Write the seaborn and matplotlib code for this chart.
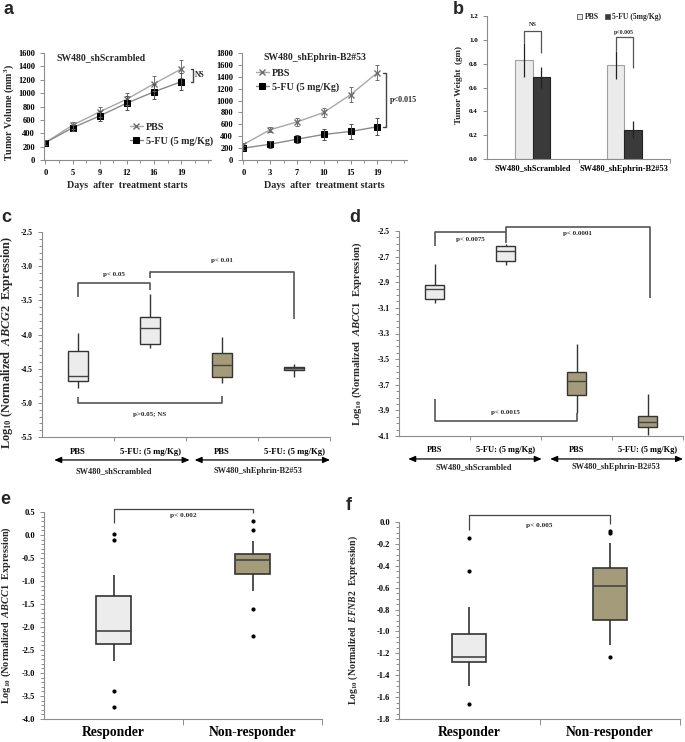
import numpy as np
import pandas as pd
import matplotlib
matplotlib.use("Agg")
import matplotlib.pyplot as plt
import seaborn as sns

sns.set_theme(style="ticks")
plt.rcParams['font.family'] = ['Liberation Serif', 'DejaVu Serif']
plt.rcParams['font.weight'] = 'bold'
plt.rcParams['axes.labelweight'] = 'bold'
plt.rcParams['mathtext.fontset'] = 'custom'
plt.rcParams['mathtext.rm'] = 'Liberation Serif:bold'
plt.rcParams['mathtext.it'] = 'Liberation Serif:italic:bold'
plt.rcParams['mathtext.bf'] = 'Liberation Serif:bold'

# ---------------- data ----------------
# panel a (left)
a1_days = ["0", "5", "9", "12", "16", "19"]
a1_pbs = [260, 520, 720, 910, 1140, 1360]
a1_pbs_err = [40, 50, 80, 90, 110, 130]
a1_fu = [260, 480, 660, 850, 1020, 1170]
a1_fu_err = [40, 50, 70, 100, 110, 130]
# panel a (right)
a2_days = ["0", "3", "7", "10", "15", "19"]
a2_pbs = [260, 510, 640, 800, 1100, 1470]
a2_pbs_err = [30, 40, 60, 80, 120, 130]
a2_fu = [200, 265, 350, 430, 480, 560]
a2_fu_err = [30, 60, 70, 90, 120, 140]

# panel b
b_groups = ["SW480_shScrambled", "SW480_shEphrin-B2#53"]
b_treat = ["PBS", "5-FU (5mg/Kg)"]
b_pbs = [0.83, 0.79]
b_pbs_err = [0.14, 0.12]
b_fu = [0.685, 0.245]
b_fu_err = [0.09, 0.07]

# panels c, d : four boxes each
cd_labels = ["PBS", "5-FU: (5 mg/Kg)", "PBS ", "5-FU: (5 mg/Kg) "]
cd_groups = ["SW480_shScrambled", "SW480_shEphrin-B2#53"]
c_whislo = [-4.78, -4.20, -4.71, -4.62]
c_q1 = [-4.68, -4.14, -4.62, -4.52]
c_med = [-4.60, -3.91, -4.45, -4.49]
c_q3 = [-4.24, -3.75, -4.27, -4.47]
c_whishi = [-3.98, -3.40, -4.04, -4.43]

d_whislo = [-3.06, -2.765, -3.92, -4.09]
d_q1 = [-3.03, -2.735, -3.78, -4.03]
d_med = [-2.95, -2.655, -3.67, -3.99]
d_q3 = [-2.92, -2.617, -3.60, -3.945]
d_whishi = [-2.76, -2.60, -3.38, -3.775]

# panels e, f : responder vs non-responder
ef_labels = ["Responder", "Non-responder"]
e_whislo = [-2.73, -1.21]
e_q1 = [-2.37, -0.84]
e_med = [-2.08, -0.55]
e_q3 = [-1.32, -0.42]
e_whishi = [-0.87, -0.14]
e_out_resp = [0.03, -0.11, -3.39, -3.74]
e_out_non = [0.30, 0.10, -1.60, -2.19]

f_whislo = [-1.50, -1.12]
f_q1 = [-1.275, -0.896]
f_med = [-1.236, -0.583]
f_q3 = [-1.026, -0.416]
f_whishi = [-0.78, -0.19]
f_out_resp = [-0.143, -0.45, -1.66]
f_out_non = [-0.085, -0.097, -1.23]

# ---------------- style ----------------
W, H = 685, 742
fig = plt.figure(figsize=(W / 100, H / 100), dpi=100)
GREY = "#8c8c8c"
LIGHT = "#ececec"
TAN = "#aa9f73"
BLINE = "#555555"


def axpx(x0, y0, x1, y1):
    return fig.add_axes([x0 / W, 1 - y1 / H, (x1 - x0) / W, (y1 - y0) / H])


def style_ax(ax, fs):
    sns.despine(ax=ax)
    for s in ["left", "bottom"]:
        ax.spines[s].set_color(GREY)
        ax.spines[s].set_linewidth(0.8)
    ax.tick_params(which="both", colors=GREY, labelcolor="black", labelsize=fs,
                   width=0.7)
    ax.tick_params(which="major", length=3)
    ax.tick_params(which="minor", length=2)
    for lab in ax.get_xticklabels() + ax.get_yticklabels():
        lab.set_fontweight("bold")


def ticks(lo, hi, step):
    return np.round(np.arange(lo, hi + 1e-6, step), 3) + 0.0


def bracket(ax, x1, x2, ytop, yl, yr, text, ty, fs, color=BLINE, lw=1.2):
    ax.plot([x1, x1, x2, x2], [yl, ytop, ytop, yr], color=color, lw=lw,
            clip_on=False, solid_capstyle="butt")
    ax.text((x1 + x2) / 2, ty, text, ha="center", va="center", fontsize=fs,
            fontweight="bold")


for letter, (lx, ly) in {"a": (9, 9), "b": (458, 9), "c": (6, 218),
                         "d": (355, 218), "e": (5, 499),
                         "f": (349, 505)}.items():
    fig.text(lx / W, 1 - ly / H, letter, family="Liberation Sans", fontsize=13,
             weight="bold", ha="center", va="center")


# ---------------- panel a ----------------
def growth(ax, days, pbs, pbs_err, fu, fu_err, ymax, title, title_x,
           leg_anchor, leg_loc):
    pos = np.arange(len(days))
    sns.lineplot(x=pos, y=pbs, ax=ax, color="#a8a8a8", lw=1.0, marker="x",
                 markersize=4.5, markeredgecolor="#6e6e6e", markeredgewidth=1.0,
                 label="PBS")
    sns.lineplot(x=pos, y=fu, ax=ax, color="#8a8a8a", lw=1.0, marker="s",
                 markersize=4, markerfacecolor="black", markeredgecolor="black",
                 label="5-FU (5 mg/Kg)")
    ax.errorbar(pos, pbs, yerr=pbs_err, fmt="none", ecolor="#707070",
                elinewidth=0.7, capsize=1.5, capthick=0.7)
    ax.errorbar(pos, fu, yerr=fu_err, fmt="none", ecolor="#505050",
                elinewidth=0.7, capsize=1.5, capthick=0.7)
    ax.set_xlim(-0.05, 6.1)
    ax.set_ylim(0, ymax)
    ax.set_xticks(pos)
    ax.set_xticklabels(days)
    ax.set_xticks(np.arange(0.5, 6.1, 0.5), minor=True)
    ax.set_yticks(np.arange(0, ymax + 1, 200))
    style_ax(ax, 6)
    ax.set_xlabel("Days  after  treatment starts", fontsize=7.2, labelpad=3)
    ax.text(title_x, 0.955, title, transform=ax.transAxes, ha="center",
            va="center", fontsize=7, fontweight="bold")
    leg = ax.legend(loc=leg_loc, bbox_to_anchor=leg_anchor, frameon=False,
                    fontsize=7.2, handlelength=1.3, handletextpad=0.3,
                    borderaxespad=0, labelspacing=0.45)
    for t in leg.get_texts():
        t.set_fontweight("bold")


ax_a1 = axpx(44, 53, 211, 160)
growth(ax_a1, a1_days, a1_pbs, a1_pbs_err, a1_fu, a1_fu_err, 1600,
       "SW480_shScrambled", 0.34, (0.49, 0.24), "center left")
ax_a1.set_ylabel("Tumor Volume (mm$^3$)", fontsize=7.2)
ax_a1.yaxis.set_label_coords(-0.165, 0.44)
ax_a1.plot([5.35, 5.42, 5.42, 5.35], [1360, 1360, 1170, 1170], color="#444",
           lw=1.0, clip_on=False)
ax_a1.text(5.5, 1265, "NS", fontsize=5.5, fontweight="bold", va="center")

ax_a2 = axpx(242, 53, 407, 160)
growth(ax_a2, a2_days, a2_pbs, a2_pbs_err, a2_fu, a2_fu_err, 1800,
       "SW480_shEphrin-B2#53", 0.44, (0.06, 0.89), "upper left")
ax_a2.plot([5.22, 5.32, 5.32, 5.22], [1470, 1470, 560, 560], color="#444",
           lw=1.0, clip_on=False)
ax_a2.text(5.45, 1015, "p<0.015", fontsize=5.8, fontweight="bold", va="center")

# ---------------- panel b ----------------
ax_b = axpx(487, 16, 670, 159)
df_b = pd.DataFrame({
    "group": b_groups * 2,
    "treat": [b_treat[0]] * 2 + [b_treat[1]] * 2,
    "value": b_pbs + b_fu,
})
sns.barplot(data=df_b, x="group", y="value", hue="treat", order=b_groups,
            hue_order=b_treat, palette=["#ebebeb", "#3a3a3a"], width=0.38,
            errorbar=None, ax=ax_b, gap=0)
errs = [b_pbs_err, b_fu_err]
edges = ["#a0a0a0", "#222222"]
centers = []
for cont, err, ec in zip(ax_b.containers, errs, edges):
    xs = [p.get_x() + p.get_width() / 2 for p in cont]
    ys = [p.get_height() for p in cont]
    for p in cont:
        p.set_edgecolor(ec)
        p.set_linewidth(0.8)
    ax_b.errorbar(xs, ys, yerr=err, fmt="none", ecolor="#222", elinewidth=0.9,
                  capsize=0)
    centers.append(xs)
ax_b.set_xlim(-0.5, 1.5)
ax_b.set_ylim(0, 1.2)
ax_b.set_yticks(ticks(0, 1.2, 0.2))
ax_b.yaxis.set_major_formatter(matplotlib.ticker.FormatStrFormatter("%.1f"))
ax_b.set_xticks([0.5, 1.5], minor=True)
style_ax(ax_b, 5)
ax_b.tick_params(axis="x", which="major", length=0, labelsize=6, pad=4)
ax_b.tick_params(axis="x", which="minor", length=3)
ax_b.set_xlabel("")
ax_b.set_ylabel("Tumor Weight  (gm)", fontsize=6.5)
ax_b.yaxis.set_label_coords(-0.13, 0.52)
leg = ax_b.legend(loc="upper right", bbox_to_anchor=(0.97, 1.04), ncol=2,
                  frameon=False, fontsize=5.5, handlelength=0.7,
                  handleheight=0.7, handletextpad=0.3, columnspacing=0.8,
                  borderaxespad=0)
for t in leg.get_texts():
    t.set_fontweight("bold")
for hnd in leg.legend_handles:
    hnd.set_edgecolor("#555555")
    hnd.set_linewidth(0.6)
bracket(ax_b, centers[0][0], centers[1][0], 1.074, 0.97, 0.89, "NS", 1.125,
        4.5, color="#555", lw=0.9)
bracket(ax_b, centers[0][1], centers[1][1], 1.02, 0.91, 0.76, "p<0.005", 1.06,
        4.2, color="#555", lw=0.9)


# ---------------- box helpers ----------------
def make_box_df(labels, lo, q1, med, q3, hi):
    rows = []
    for i, lab in enumerate(labels):
        for v in (lo[i], q1[i], med[i], q3[i], hi[i]):
            rows.append((lab, v))
    return pd.DataFrame(rows, columns=["group", "value"])


def boxes(ax, labels, colors, lo, q1, med, q3, hi, width, lw=1.0):
    df = make_box_df(labels, lo, q1, med, q3, hi)
    sns.boxplot(data=df, x="group", y="value", order=labels, hue="group",
                hue_order=labels, palette=dict(zip(labels, colors)),
                whis=(0, 100), width=width, linewidth=lw, linecolor="#333333",
                legend=False, ax=ax, showcaps=False,
                medianprops=dict(color="#444444", linewidth=lw))


def ylabel_log(gene):
    return "Log$_{10}$ (Normalized  $\\mathit{" + gene + "}$  Expression)"


def group_arrows(ax, spans, names, name_x, y_arrow, y_name, fs):
    tr = ax.get_xaxis_transform()
    for (x1, x2), name, nx in zip(spans, names, name_x):
        ax.annotate("", xy=(x1, y_arrow), xytext=(x2, y_arrow), xycoords=tr,
                    textcoords=tr, annotation_clip=False,
                    arrowprops=dict(arrowstyle="<|-|>,head_length=0.35,head_width=0.15",
                                    color="black", lw=0.9, shrinkA=0, shrinkB=0))
        ax.text(nx, y_name, name, transform=tr, ha="center", va="center",
                fontsize=fs, fontweight="bold")


# ---------------- panel c ----------------
ax_c = axpx(42, 232, 330, 437)
boxes(ax_c, cd_labels, [LIGHT, LIGHT, TAN, TAN], c_whislo, c_q1, c_med, c_q3,
      c_whishi, 0.28)
ax_c.set_xlim(-0.5, 3.5)
ax_c.set_ylim(-5.5, -2.5)
ax_c.set_yticks(ticks(-5.5, -2.5, 0.5))
ax_c.set_yticks(ticks(-5.5, -2.5, 0.1), minor=True)
ax_c.yaxis.set_major_formatter(matplotlib.ticker.FormatStrFormatter("%.1f"))
ax_c.set_xticks([0.5, 1.5, 2.5, 3.5], minor=True)
ax_c.set_xticklabels([l.strip() for l in cd_labels])
style_ax(ax_c, 5.5)
ax_c.tick_params(axis="x", which="major", length=0, labelsize=6.2, pad=8)
ax_c.tick_params(axis="x", which="minor", length=3)
ax_c.set_xlabel("")
ax_c.set_ylabel(ylabel_log("ABCG2"), fontsize=8.8)
ax_c.yaxis.set_label_coords(-0.095, 0.46)
group_arrows(ax_c, [(-0.33, 1.55), (1.62, 3.5)], cd_groups, [0.5, 2.5],
             -0.112, -0.165, 6)
bracket(ax_c, 0, 1, -3.25, -3.45, -3.35, "p< 0.05", -3.12, 5)
bracket(ax_c, 1, 3, -3.09, -3.18, -3.77, "p< 0.01", -2.92, 5)
bracket(ax_c, 0, 2, -5.0, -4.91, -4.90, "p>0.05; NS", -5.17, 5)

# ---------------- panel d ----------------
ax_d = axpx(399, 231, 683, 436)
boxes(ax_d, cd_labels, [LIGHT, LIGHT, TAN, TAN], d_whislo, d_q1, d_med, d_q3,
      d_whishi, 0.26)
ax_d.set_xlim(-0.5, 3.5)
ax_d.set_ylim(-4.1, -2.5)
ax_d.set_yticks(ticks(-4.1, -2.5, 0.2))
ax_d.set_yticks(ticks(-4.1, -2.5, 0.05), minor=True)
ax_d.yaxis.set_major_formatter(matplotlib.ticker.FormatStrFormatter("%.1f"))
ax_d.set_xticks([0.5, 1.5, 2.5, 3.5], minor=True)
ax_d.set_xticklabels([l.strip() for l in cd_labels])
style_ax(ax_d, 5.5)
ax_d.tick_params(axis="x", which="major", length=0, labelsize=6, pad=7)
ax_d.tick_params(axis="x", which="minor", length=3)
ax_d.set_xlabel("")
ax_d.set_ylabel(ylabel_log("ABCC1"), fontsize=7.7)
ax_d.yaxis.set_label_coords(-0.125, 0.5)
group_arrows(ax_d, [(-0.37, 1.51), (1.63, 3.5)], cd_groups, [0.55, 2.55],
             -0.112, -0.15, 6)
bracket(ax_d, 0, 1, -2.51, -2.62, -2.59, "p< 0.0075", -2.57, 5)
bracket(ax_d, 1, 3.04, -2.47, -2.51, -3.02, "p< 0.0001", -2.52, 5)
bracket(ax_d, 0, 2, -3.985, -3.815, -3.92, "p< 0.0015", -3.92, 5)


# ---------------- panels e, f ----------------
def resp_panel(ax, lo, q1, med, q3, hi, out_r, out_n, ylim, step, minor, gene,
               ylfs, ylx):
    boxes(ax, ef_labels, [LIGHT, TAN], lo, q1, med, q3, hi, 0.245, lw=1.2)
    df_o = pd.DataFrame({
        "group": [ef_labels[0]] * len(out_r) + [ef_labels[1]] * len(out_n),
        "value": out_r + out_n,
    })
    sns.stripplot(data=df_o, x="group", y="value", order=ef_labels,
                  color="black", jitter=False, size=3, ax=ax)
    ax.set_xlim(-0.5, 1.5)
    ax.set_ylim(*ylim)
    ax.set_yticks(ticks(ylim[0], ylim[1], step))
    ax.set_yticks(ticks(ylim[0], ylim[1], minor), minor=True)
    ax.yaxis.set_major_formatter(matplotlib.ticker.FormatStrFormatter("%.1f"))
    ax.set_xticks([0.5, 1.5], minor=True)
    style_ax(ax, 6)
    ax.tick_params(axis="x", which="major", length=0, labelsize=9.8, pad=5)
    ax.tick_params(axis="x", which="minor", length=4)
    ax.set_xlabel("")
    ax.set_ylabel(ylabel_log(gene), fontsize=ylfs)
    ax.yaxis.set_label_coords(ylx, 0.5)


ax_e = axpx(44, 512, 322, 719)
resp_panel(ax_e, e_whislo, e_q1, e_med, e_q3, e_whishi, e_out_resp, e_out_non,
           (-4.0, 0.5), 0.5, 0.1, "ABCC1", 7.4, -0.11)
bracket(ax_e, 0, 1, 0.57, 0.27, 0.48, "p< 0.002", 0.43, 5.2, color="#444",
        lw=0.9)

ax_f = axpx(399, 522, 680, 719)
resp_panel(ax_f, f_whislo, f_q1, f_med, f_q3, f_whishi, f_out_resp, f_out_non,
           (-1.8, 0.0), 0.2, 0.05, "EFNB2", 7.0, -0.14)
bracket(ax_f, 0, 1, 0.06, -0.07, -0.015, "p< 0.005", -0.03, 5.2, color="#444",
        lw=0.9)

fig.savefig("out.png", dpi=100)
